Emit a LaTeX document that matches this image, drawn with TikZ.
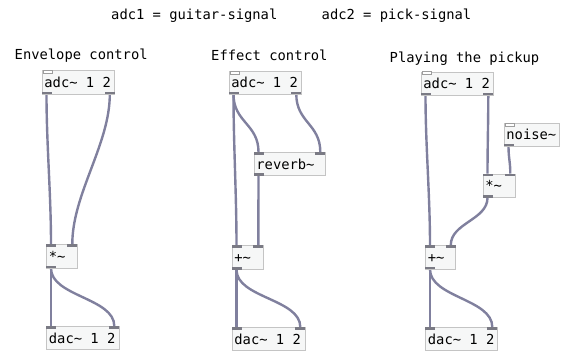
\documentclass[tikz,border=0pt]{standalone}
\usepackage{fontspec}
\setmainfont{DejaVu Sans Mono}
\usetikzlibrary{calc}
\pgfdeclarelayer{cablelayer}
\pgfsetlayers{cablelayer,main}
\definecolor{cablec}{RGB}{128,128,158}
\definecolor{portc}{RGB}{122,122,132}
\definecolor{boxborder}{RGB}{196,196,196}
\definecolor{boxfill}{RGB}{246,247,247}
\newcommand\pdbox[6]{%
  \pgfmathsetmacro\bw{#4-#2-5}%
  \node[pdobj, minimum width={(#4-#2)*1pt}, minimum height={(#5-#3)*1pt}] (#1) at (#2,#3) {\makebox[\bw pt][l]{#6}};}
\newcommand\inl[1]{\fill[portc] (#1.north west) rectangle ++(10,2.7);
  \coordinate (#1i1) at ($(#1.north west)+(5,0)$);}
\newcommand\inr[1]{\fill[portc] (#1.north east) rectangle ++(-10,2.7);
  \coordinate (#1i2) at ($(#1.north east)+(-5,0)$);}
\newcommand\outl[1]{\fill[portc] (#1.south west) rectangle ++(10,-2.7);
  \coordinate (#1o1) at ($(#1.south west)+(5,0)$);}
\newcommand\outr[1]{\fill[portc] (#1.south east) rectangle ++(-10,-2.7);
  \coordinate (#1o2) at ($(#1.south east)+(-5,0)$);}
\newcommand\tab[1]{\draw[boxborder!80!black, fill=white, line width=0.7pt] ($(#1.north west)+(1.5,0.3)$) rectangle ++(9,3);}
\newcommand\cable[3]{\draw[cablestyle] (#1) .. controls +(0,#3) and +(0,-#3) .. (#2);}
\begin{document}
\begin{tikzpicture}[x=1pt,y=-1pt,
  pdobj/.style={draw=boxborder, fill=boxfill, line width=0.8pt, anchor=north west,
    inner xsep=2.5pt, inner ysep=0pt, text height=10.3pt, text depth=0pt,
    font=\fontsize{13.8}{14}\selectfont},
  cablestyle/.style={draw=cablec, line width=2.4pt},
  lbl/.style={anchor=base west, inner sep=0pt, font=\fontsize{13.8}{14}\selectfont}]
\useasboundingbox (0,0) rectangle (565,354);
% header
\node[lbl] (h1) at (111,19) {adc1 = guitar-signal};
\node[lbl] (h2) at (321.5,19) {adc2 = pick-signal};
\node[lbl] (t1) at (14.5,59.5) {Envelope control};
\node[lbl] (t2) at (211,60.5) {Effect control};
\node[lbl] (t3) at (389.5,62) {Playing the pickup};
% section 1
\pdbox{A1}{41.5}{70}{114}{93.5}{adc\textasciitilde\ 1 2}
\pdbox{M1}{46}{244}{76.5}{267.5}{*\textasciitilde}
\pdbox{D1}{46}{326}{118.5}{349}{dac\textasciitilde\ 1 2}
% section 2
\pdbox{A2}{228.5}{71}{300.5}{93.5}{adc\textasciitilde\ 1 2}
\pdbox{R2}{253.5}{152}{324.5}{175}{reverb\textasciitilde}
\pdbox{P2}{231.5}{245}{262.5}{269}{+\textasciitilde}
\pdbox{D2}{231.5}{327}{304.5}{350}{dac\textasciitilde\ 1 2}
% section 3
\pdbox{A3}{420.5}{71.5}{492.5}{94.5}{adc\textasciitilde\ 1 2}
\pdbox{N3}{503.5}{123}{559}{145.5}{noise\textasciitilde}
\pdbox{T3}{482.5}{173.5}{514.5}{197}{*\textasciitilde}
\pdbox{P3}{425}{245}{455}{268.5}{+\textasciitilde}
\pdbox{D3}{425}{327}{496.5}{350}{dac\textasciitilde\ 1 2}
% tabs
\tab{A1}\tab{A2}\tab{A3}\tab{N3}
% ports
\outl{A1}\outr{A1}\inl{M1}\inr{M1}\outl{M1}\inl{D1}\inr{D1}
\outl{A2}\outr{A2}\inl{R2}\inr{R2}\outl{R2}\inl{P2}\inr{P2}\outl{P2}\inl{D2}\inr{D2}
\outl{A3}\outr{A3}\outl{N3}\inl{T3}\inr{T3}\outl{T3}\inl{P3}\inr{P3}\outl{P3}\inl{D3}\inr{D3}
% cables
\begin{pgfonlayer}{cablelayer}
\cable{A1o1}{M1i1}{50}
\cable{A1o2}{M1i2}{50}
\cable{M1o1}{D1i1}{25}
\cable{M1o1}{D1i2}{28}
\cable{A2o1}{P2i1}{50}
\cable{A2o1}{R2i1}{28}
\cable{A2o2}{R2i2}{28}
\cable{R2o1}{P2i2}{25}
\cable{P2o1}{D2i1}{25}
\cable{P2o1}{D2i2}{28}
\cable{A3o1}{P3i1}{50}
\cable{A3o2}{T3i1}{25}
\cable{N3o1}{T3i2}{12}
\cable{T3o1}{P3i2}{22}
\cable{P3o1}{D3i1}{25}
\cable{P3o1}{D3i2}{28}
\end{pgfonlayer}
\end{tikzpicture}
\end{document}
